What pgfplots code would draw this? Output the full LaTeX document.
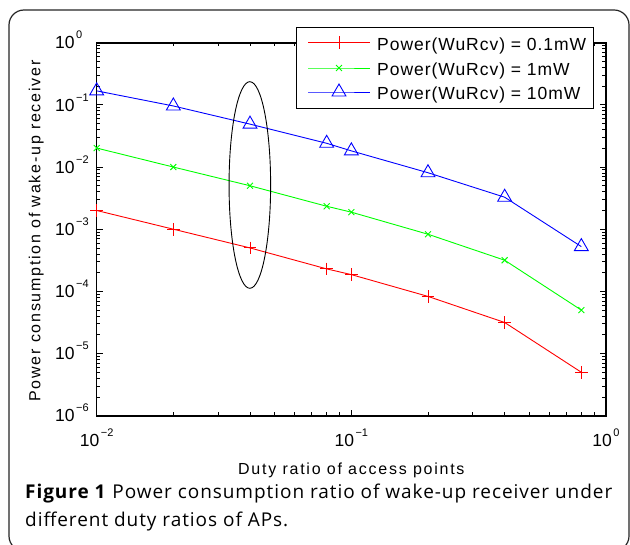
\documentclass[border=0pt]{standalone}
\usepackage{pgfplots}
\pgfplotsset{compat=1.18}
\usepackage{fontspec}
\setmainfont{Liberation Sans}
\newfontfamily\labfont[LetterSpace=11]{Liberation Sans}
\newfontfamily\legfont[LetterSpace=5.5]{Liberation Sans}
\newfontfamily\capfont[LetterSpace=5]{Open Sans}
\usetikzlibrary{calc}
\definecolor{mgreen}{RGB}{0,255,0}
\newcommand{\tl}[1]{10\hspace{1.5pt}\raisebox{10pt}{\fontsize{11}{11}\selectfont #1}}
\newcommand{\lt}[1]{{\fontsize{17.5}{20}\legfont #1}}
\begin{document}
\begin{tikzpicture}
\useasboundingbox (0,0) rectangle (630pt,-545pt);
\fill[white] (0,0) rectangle (630pt,-545pt);
\draw[black!85, line width=1.2pt, rounded corners=15pt] (9pt,-10pt) rectangle (629pt,-551pt);
% main plot
\begin{axis}[
  at={(96.7pt,-415.7pt)}, anchor=south west,
  width=509.3pt, height=373pt, scale only axis,
  xmode=log, ymode=log,
  xmin=0.01, xmax=1, ymin=1e-6, ymax=1,
  xtick={0.01,0.1,1}, xticklabels={\tl{−2},\tl{−1},\tl{0}},
  ytick={1e-6,1e-5,1e-4,1e-3,1e-2,1e-1,1},
  yticklabels={\tl{−6},\tl{−5},\tl{−4},\tl{−3},\tl{−2},\tl{−1},\tl{0}},
  minor xtick={0.02,0.03,0.04,0.05,0.06,0.07,0.08,0.09,0.2,0.3,0.4,0.5,0.6,0.7,0.8,0.9},
  minor ytick={2e-6,3e-6,4e-6,5e-6,6e-6,7e-6,8e-6,9e-6,
               2e-5,3e-5,4e-5,5e-5,6e-5,7e-5,8e-5,9e-5,
               2e-4,3e-4,4e-4,5e-4,6e-4,7e-4,8e-4,9e-4,
               2e-3,3e-3,4e-3,5e-3,6e-3,7e-3,8e-3,9e-3,
               2e-2,3e-2,4e-2,5e-2,6e-2,7e-2,8e-2,9e-2,
               0.2,0.3,0.4,0.5,0.6,0.7,0.8,0.9},
  major tick length=6pt, minor tick length=3.5pt,
  tick style={line width=0.8pt, black},
  axis line style={line width=1.6pt},
  tick label style={font=\fontsize{17.5}{17.5}\selectfont},
  xticklabel style={anchor=base, inner sep=0pt, yshift=-30.3pt},
  yticklabel style={anchor=base west, inner sep=0pt, xshift=-41.7pt, yshift=-6.25pt},
  xlabel={Duty ratio of access points},
  xlabel style={at={(axis description cs:0.5,0)}, anchor=base, yshift=-58.3pt, inner sep=0pt, font={\fontsize{16}{19}\labfont}},
  ylabel={Power consumption of wake-up receiver},
  ylabel style={at={($(axis description cs:0,0.5)+(-56.2pt,-1.8pt)$)}, anchor=base, inner sep=0pt, font={\fontsize{16}{19}\labfont}},
]
\addplot[color=red, line width=0.9pt, mark=+, mark size=6.3pt, mark options={solid, line width=0.9pt}] coordinates {
 (0.01,2e-3) (0.02,1e-3) (0.04,5e-4) (0.08,2.3e-4) (0.1,1.86e-4) (0.2,8.3e-5) (0.4,3.16e-5) (0.8,5e-6)};
\addplot[color=mgreen, line width=0.9pt, mark=x, mark size=4.2pt, mark options={solid, line width=0.9pt}] coordinates {
 (0.01,2.02e-2) (0.02,1.0e-2) (0.04,5e-3) (0.08,2.34e-3) (0.1,1.88e-3) (0.2,8.3e-4) (0.4,3.17e-4) (0.8,5e-5)};
\addplot[color=blue, line width=0.9pt, mark=triangle, mark size=8pt, mark options={solid, line width=0.9pt}] coordinates {
 (0.01,0.168) (0.02,0.096) (0.04,0.049) (0.08,0.0241) (0.1,0.0182) (0.2,0.0081) (0.4,0.00327) (0.8,5.25e-4)};
\draw[line width=0.9pt] let \p1=(axis cs:0.0331,0.236), \p2=(axis cs:0.0482,1.12e-4) in
  ({(\x1+\x2)/2},{(\y1+\y2)/2}) ellipse ({(\x2-\x1)/2} and {(\y1-\y2)/2});
\end{axis}
% legend box (its own small axis, units = px inside the box)
\begin{axis}[
  at={(296pt,-108.3pt)}, anchor=south west,
  width=297pt, height=81pt, scale only axis,
  xmin=0, xmax=297, ymin=0, ymax=81,
  xtick=\empty, ytick=\empty,
  axis line style={line width=0.8pt},
  axis background/.style={fill=white},
  clip=false,
]
\addplot[color=red, line width=0.9pt, mark=+, mark size=6.3pt, mark repeat=2, mark phase=2, mark options={solid, line width=0.9pt}] coordinates {(12,65.6) (43,65.6) (74,65.6)};
\addplot[color=mgreen, line width=0.9pt, mark=x, mark size=4.2pt, mark repeat=2, mark phase=2, mark options={solid, line width=0.9pt}] coordinates {(12,40.3) (43,40.3) (74,40.3)};
\addplot[color=blue, line width=0.9pt, mark=triangle, mark size=8pt, mark repeat=2, mark phase=2, mark options={solid, line width=0.9pt}] coordinates {(12,16.3) (43,16.3) (74,16.3)};
\node[anchor=base west, inner sep=0pt] at (axis cs:81,57.6) {\lt{Power(WuRcv) = 0.1mW}};
\node[anchor=base west, inner sep=0pt] at (axis cs:81,32.3) {\lt{Power(WuRcv) = 1mW}};
\node[anchor=base west, inner sep=0pt] at (axis cs:81,8.3) {\lt{Power(WuRcv) = 10mW}};
\end{axis}
\node[anchor=base west, inner sep=0pt, text=black, font={\fontsize{19}{22}\capfont}] at (25pt,-499pt) {\textbf{Figure 1} Power consumption ratio of wake-up receiver under};
\node[anchor=base west, inner sep=0pt, text=black, font={\fontsize{19}{22}\capfont}] at (25pt,-527pt) {different duty ratios of APs.};
\end{tikzpicture}
\end{document}
